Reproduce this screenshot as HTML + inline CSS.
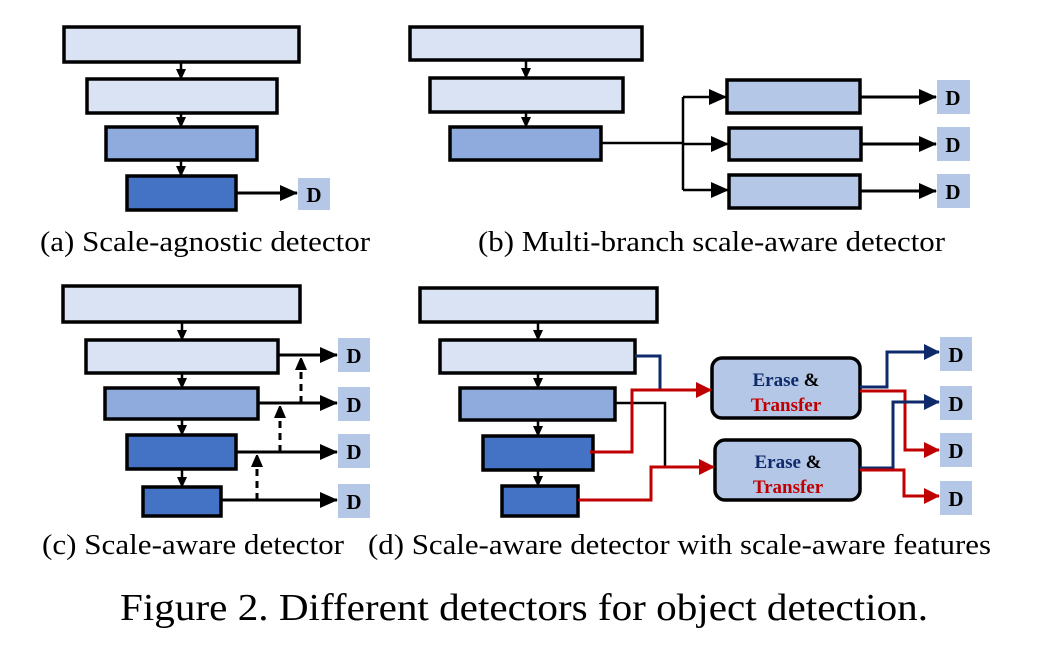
<!DOCTYPE html>
<html><head><style>
body{margin:0;background:#fff;}
svg text{font-family:"Liberation Serif",serif;}
</style></head><body>
<svg width="1042" height="653" viewBox="0 0 1042 653" xmlns="http://www.w3.org/2000/svg">
<defs>
<marker id="ak" markerWidth="11" markerHeight="10" refX="10" refY="5" orient="auto" markerUnits="userSpaceOnUse"><path d="M0,0 L11,5 L0,10z" fill="#000"/></marker>
<marker id="akb" markerWidth="18" markerHeight="16" refX="17" refY="8" orient="auto" markerUnits="userSpaceOnUse"><path d="M0,0 L18,8 L0,16z" fill="#000"/></marker>
<marker id="ab" markerWidth="16" markerHeight="16" refX="15" refY="8" orient="auto" markerUnits="userSpaceOnUse"><path d="M0,0 L16,8 L0,16z" fill="#0e2a6b"/></marker>
<marker id="ar" markerWidth="16" markerHeight="16" refX="15" refY="8" orient="auto" markerUnits="userSpaceOnUse"><path d="M0,0 L16,8 L0,16z" fill="#c00000"/></marker>
<marker id="ad" markerWidth="12" markerHeight="14" refX="13" refY="6" orient="auto" markerUnits="userSpaceOnUse"><path d="M0,0 L14,6 L0,12z" fill="#000"/></marker>
</defs>
<g stroke="#000" stroke-width="3.5">
<rect x="64" y="27" width="235" height="35" fill="#dae3f3"/>
<rect x="87" y="79" width="190" height="34" fill="#dae3f3"/>
<rect x="106" y="127" width="151" height="33" fill="#8faadc"/>
<rect x="127" y="176" width="109" height="34" fill="#4472c4"/>
<rect x="410" y="27" width="232" height="33" fill="#dae3f3"/>
<rect x="430" y="78" width="193" height="34" fill="#dae3f3"/>
<rect x="450" y="127" width="151" height="33" fill="#8faadc"/>
<rect x="727" y="80" width="133" height="33" fill="#b4c7e7"/>
<rect x="729" y="128" width="132" height="32" fill="#b4c7e7"/>
<rect x="729" y="175" width="131" height="33" fill="#b4c7e7"/>
<rect x="63" y="286" width="237" height="36" fill="#dae3f3"/>
<rect x="86" y="340" width="192" height="33" fill="#dae3f3"/>
<rect x="105" y="388" width="153" height="31" fill="#8faadc"/>
<rect x="127" y="435" width="109" height="34" fill="#4472c4"/>
<rect x="143" y="487" width="78" height="29" fill="#4472c4"/>
<rect x="420" y="288" width="237" height="34" fill="#dae3f3"/>
<rect x="440" y="340" width="195" height="33" fill="#dae3f3"/>
<rect x="460" y="388" width="155" height="32" fill="#8faadc"/>
<rect x="483" y="436" width="110" height="34" fill="#4472c4"/>
<rect x="502" y="486" width="76" height="30" fill="#4472c4"/>
<rect x="712" y="358" width="148" height="60" rx="10" fill="#b4c7e7"/>
<rect x="715" y="440" width="145" height="60" rx="10" fill="#b4c7e7"/>
</g>
<g fill="#b4c7e7">
<rect x="298" y="178" width="32" height="32"/>
<rect x="937" y="80" width="33" height="34"/><rect x="937" y="127" width="33" height="34"/><rect x="937" y="174" width="33" height="34"/>
<rect x="338" y="338" width="32" height="34"/><rect x="338" y="387" width="32" height="34"/><rect x="338" y="434" width="32" height="34"/><rect x="338" y="484" width="32" height="34"/>
<rect x="940" y="337" width="32" height="34"/><rect x="940" y="386" width="32" height="34"/><rect x="940" y="433" width="32" height="34"/><rect x="940" y="481" width="32" height="34"/>
</g>
<g font-weight="bold" font-size="21" text-anchor="middle">
<text x="314" y="202">D</text>
<text x="953" y="105">D</text><text x="953" y="152">D</text><text x="953" y="199">D</text>
<text x="354" y="363">D</text><text x="354" y="412">D</text><text x="354" y="459">D</text><text x="354" y="509">D</text>
<text x="956" y="362">D</text><text x="956" y="411">D</text><text x="956" y="458">D</text><text x="956" y="506">D</text>
</g>
<g stroke="#000" stroke-width="2.5" fill="none">
<path d="M181 62V79" marker-end="url(#ak)"/><path d="M181 113V127" marker-end="url(#ak)"/><path d="M181 160V176" marker-end="url(#ak)"/>
<path d="M236 193H297" stroke-width="3" marker-end="url(#akb)"/>
<path d="M526 60V78" marker-end="url(#ak)"/><path d="M526 112V127" marker-end="url(#ak)"/>
<path d="M601 143H683M683 97V190"/>
<path d="M683 97H726" marker-end="url(#akb)"/><path d="M683 144H728" marker-end="url(#akb)"/><path d="M683 190H728" marker-end="url(#akb)"/>
<path d="M860 97H936" stroke-width="3" marker-end="url(#akb)"/><path d="M861 144H936" stroke-width="3" marker-end="url(#akb)"/><path d="M860 191H936" stroke-width="3" marker-end="url(#akb)"/>
<path d="M182 322V340" marker-end="url(#ak)"/><path d="M182 373V388" marker-end="url(#ak)"/><path d="M182 419V435" marker-end="url(#ak)"/><path d="M182 469V487" marker-end="url(#ak)"/>
<path d="M278 355H337" stroke-width="3" marker-end="url(#akb)"/><path d="M258 403H337" stroke-width="3" marker-end="url(#akb)"/><path d="M236 452H337" stroke-width="3" marker-end="url(#akb)"/><path d="M221 500H337" stroke-width="3" marker-end="url(#akb)"/>
<path d="M301 403V357" stroke-width="3" stroke-dasharray="7,5" marker-end="url(#ad)"/>
<path d="M280 452V405" stroke-width="3" stroke-dasharray="7,5" marker-end="url(#ad)"/>
<path d="M257 500V454" stroke-width="3" stroke-dasharray="7,5" marker-end="url(#ad)"/>
<path d="M538 322V340" marker-end="url(#ak)"/><path d="M538 373V388" marker-end="url(#ak)"/><path d="M538 420V436" marker-end="url(#ak)"/><path d="M538 470V486" marker-end="url(#ak)"/>
<path d="M615 403H665V467"/>
</g>
<g fill="none" stroke-width="3">
<path d="M635 356H660V390" stroke="#0e2a6b"/>
<path d="M590 452H632V390H711" stroke="#c00000" marker-end="url(#ar)"/>
<path d="M578 500H651V467H714" stroke="#c00000" marker-end="url(#ar)"/>
<path d="M860 387H887V352H939" stroke="#0e2a6b" marker-end="url(#ab)"/>
<path d="M860 391H905V450H939" stroke="#c00000" marker-end="url(#ar)"/>
<path d="M860 468H893V402H939" stroke="#0e2a6b" marker-end="url(#ab)"/>
<path d="M860 470H904V496H939" stroke="#c00000" marker-end="url(#ar)"/>
</g>
<g font-weight="bold" font-size="19" text-anchor="middle">
<text x="786" y="386" fill="#0e2a6b">Erase <tspan fill="#000">&amp;</tspan></text>
<text x="786" y="411" fill="#c00000">Transfer</text>
<text x="788" y="468" fill="#0e2a6b">Erase <tspan fill="#000">&amp;</tspan></text>
<text x="788" y="493" fill="#c00000">Transfer</text>
</g>
<g font-size="28" fill="#000">
<text x="40" y="251" textLength="330" lengthAdjust="spacingAndGlyphs">(a) Scale-agnostic  detector</text>
<text x="478" y="251" textLength="467" lengthAdjust="spacingAndGlyphs">(b) Multi-branch  scale-aware  detector</text>
<text x="42" y="554" textLength="302" lengthAdjust="spacingAndGlyphs">(c) Scale-aware detector</text>
<text x="368" y="554" textLength="623" lengthAdjust="spacingAndGlyphs">(d) Scale-aware detector with scale-aware features</text>
</g>
<text x="120" y="620" font-size="38" textLength="808" lengthAdjust="spacingAndGlyphs">Figure 2. Different detectors for object detection.</text>
</svg>
</body></html>
